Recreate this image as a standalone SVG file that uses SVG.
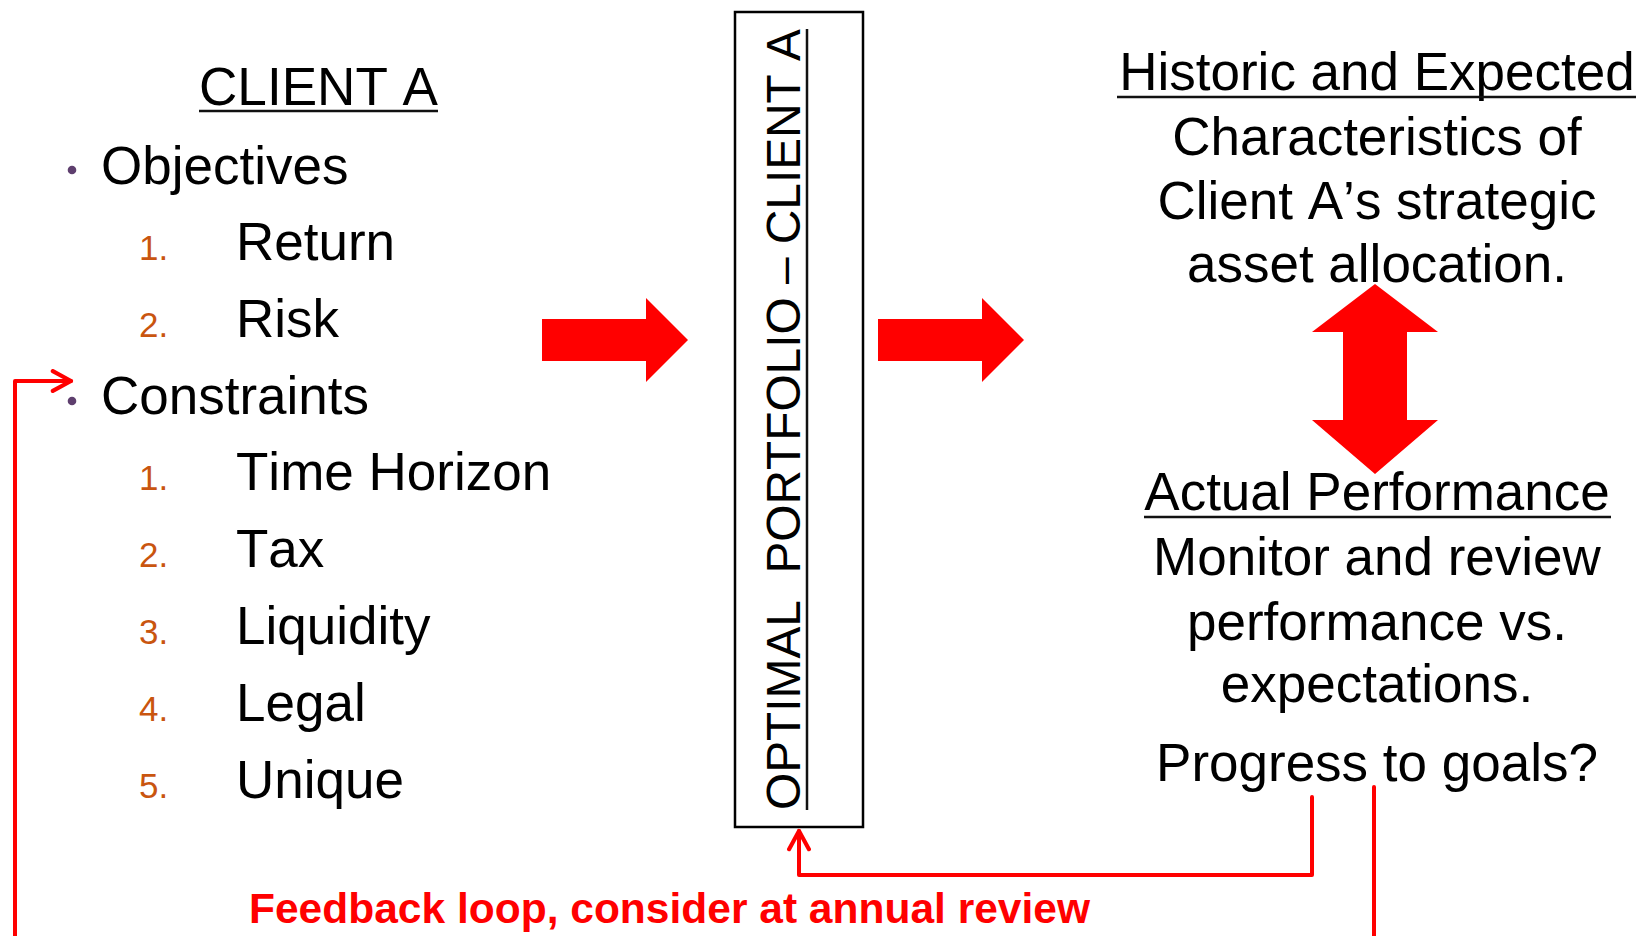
<svg xmlns="http://www.w3.org/2000/svg" width="1639" height="936" viewBox="0 0 1639 936">
  <style>
    text { font-family: "Liberation Sans", Arial, sans-serif; fill: #000; font-kerning: none; }
    .item { font-size: 53px; }
    .num { font-size: 35px; fill: #C9550F; }
    .head { font-size: 53px; text-anchor: middle; }
    .uline { stroke: #111; stroke-width: 2.5; }
    .bullet { fill: #5E3F6E; }
    .wire { fill: none; stroke: #FF0000; stroke-width: 4; stroke-linecap: round; stroke-linejoin: round; }
    .block { fill: #FF0000; }
    .fb { font-size: 42px; font-weight: bold; fill: #FF0000; }
  </style>
  <defs>
    <marker id="openHead" viewBox="0 0 12 12" refX="10" refY="6" markerWidth="6.2" markerHeight="6.2" markerUnits="strokeWidth" orient="auto">
      <path d="M1.2,1.2 L10,6 L1.2,10.8" fill="none" stroke="#FF0000" stroke-width="2" stroke-linecap="round" stroke-linejoin="round"/>
    </marker>
  </defs>

  <rect width="1639" height="936" fill="#fff"/>

  <!-- Client profile: objectives and constraints -->
  <g id="client-a">
    <text x="199" y="105" class="item" textLength="239" lengthAdjust="spacingAndGlyphs">CLIENT A</text>
    <line x1="199" y1="111" x2="438" y2="111" class="uline"/>

    <circle cx="72" cy="170" r="4.3" class="bullet"/>
    <text x="101" y="184" class="item">Objectives</text>
    <text x="139" y="260" class="num">1.</text>
    <text x="236" y="260" class="item">Return</text>
    <text x="139" y="337" class="num">2.</text>
    <text x="236" y="337" class="item">Risk</text>

    <circle cx="72" cy="401" r="4.3" class="bullet"/>
    <text x="101" y="414" class="item">Constraints</text>
    <text x="139" y="490" class="num">1.</text>
    <text x="236" y="490" class="item">Time Horizon</text>
    <text x="139" y="567" class="num">2.</text>
    <text x="236" y="567" class="item">Tax</text>
    <text x="139" y="644" class="num">3.</text>
    <text x="236" y="644" class="item">Liquidity</text>
    <text x="139" y="721" class="num">4.</text>
    <text x="236" y="721" class="item">Legal</text>
    <text x="139" y="798" class="num">5.</text>
    <text x="236" y="798" class="item">Unique</text>
  </g>

  <!-- Optimal portfolio box with vertical caption -->
  <g id="optimal-portfolio">
    <rect x="735" y="12" width="128" height="815" fill="none" stroke="#000" stroke-width="2.5"/>
    <text transform="translate(800,810) rotate(-90)" x="0" y="0" font-size="48" textLength="781" lengthAdjust="spacingAndGlyphs" xml:space="preserve">OPTIMAL  PORTFOLIO – CLIENT A</text>
    <line x1="807" y1="810" x2="807" y2="29" class="uline"/>
  </g>

  <!-- Strategic allocation characteristics -->
  <g id="historic-expected">
    <text x="1377" y="90" class="head">Historic and Expected</text>
    <line x1="1117" y1="97" x2="1636" y2="97" class="uline"/>
    <text x="1377" y="155" class="head">Characteristics of</text>
    <text x="1377" y="219" class="head">Client A’s strategic</text>
    <text x="1377" y="282" class="head">asset allocation.</text>
  </g>

  <!-- Performance monitoring -->
  <g id="actual-performance">
    <text x="1377" y="510" class="head">Actual Performance</text>
    <line x1="1144" y1="517" x2="1611" y2="517" class="uline"/>
    <text x="1377" y="575" class="head">Monitor and review</text>
    <text x="1377" y="640" class="head">performance vs.</text>
    <text x="1377" y="702" class="head">expectations.</text>
    <text x="1377" y="781" class="head">Progress to goals?</text>
  </g>

  <!-- Connectors -->
  <g id="connectors">
    <!-- block arrows -->
    <polygon class="block" points="542,319 646,319 646,298 688,340 646,382 646,361 542,361"/>
    <polygon class="block" points="878,319 982,319 982,298 1024,340 982,382 982,361 878,361"/>
    <polygon class="block" points="1375,284 1438,332 1407,332 1407,420 1438,420 1375,474 1312,420 1343,420 1343,332 1312,332"/>

    <!-- feedback to portfolio box -->
    <polyline class="wire" points="1312,797 1312,875 799,875 799,831" marker-end="url(#openHead)"/>
    <!-- feedback to constraints -->
    <polyline class="wire" points="15,936 15,381 71,381" marker-end="url(#openHead)"/>
    <!-- line down from goals -->
    <line class="wire" x1="1374" y1="787" x2="1374" y2="936" stroke-linecap="butt"/>

    <text x="249" y="923" class="fb" textLength="841" lengthAdjust="spacingAndGlyphs">Feedback loop, consider at annual review</text>
  </g>
</svg>
